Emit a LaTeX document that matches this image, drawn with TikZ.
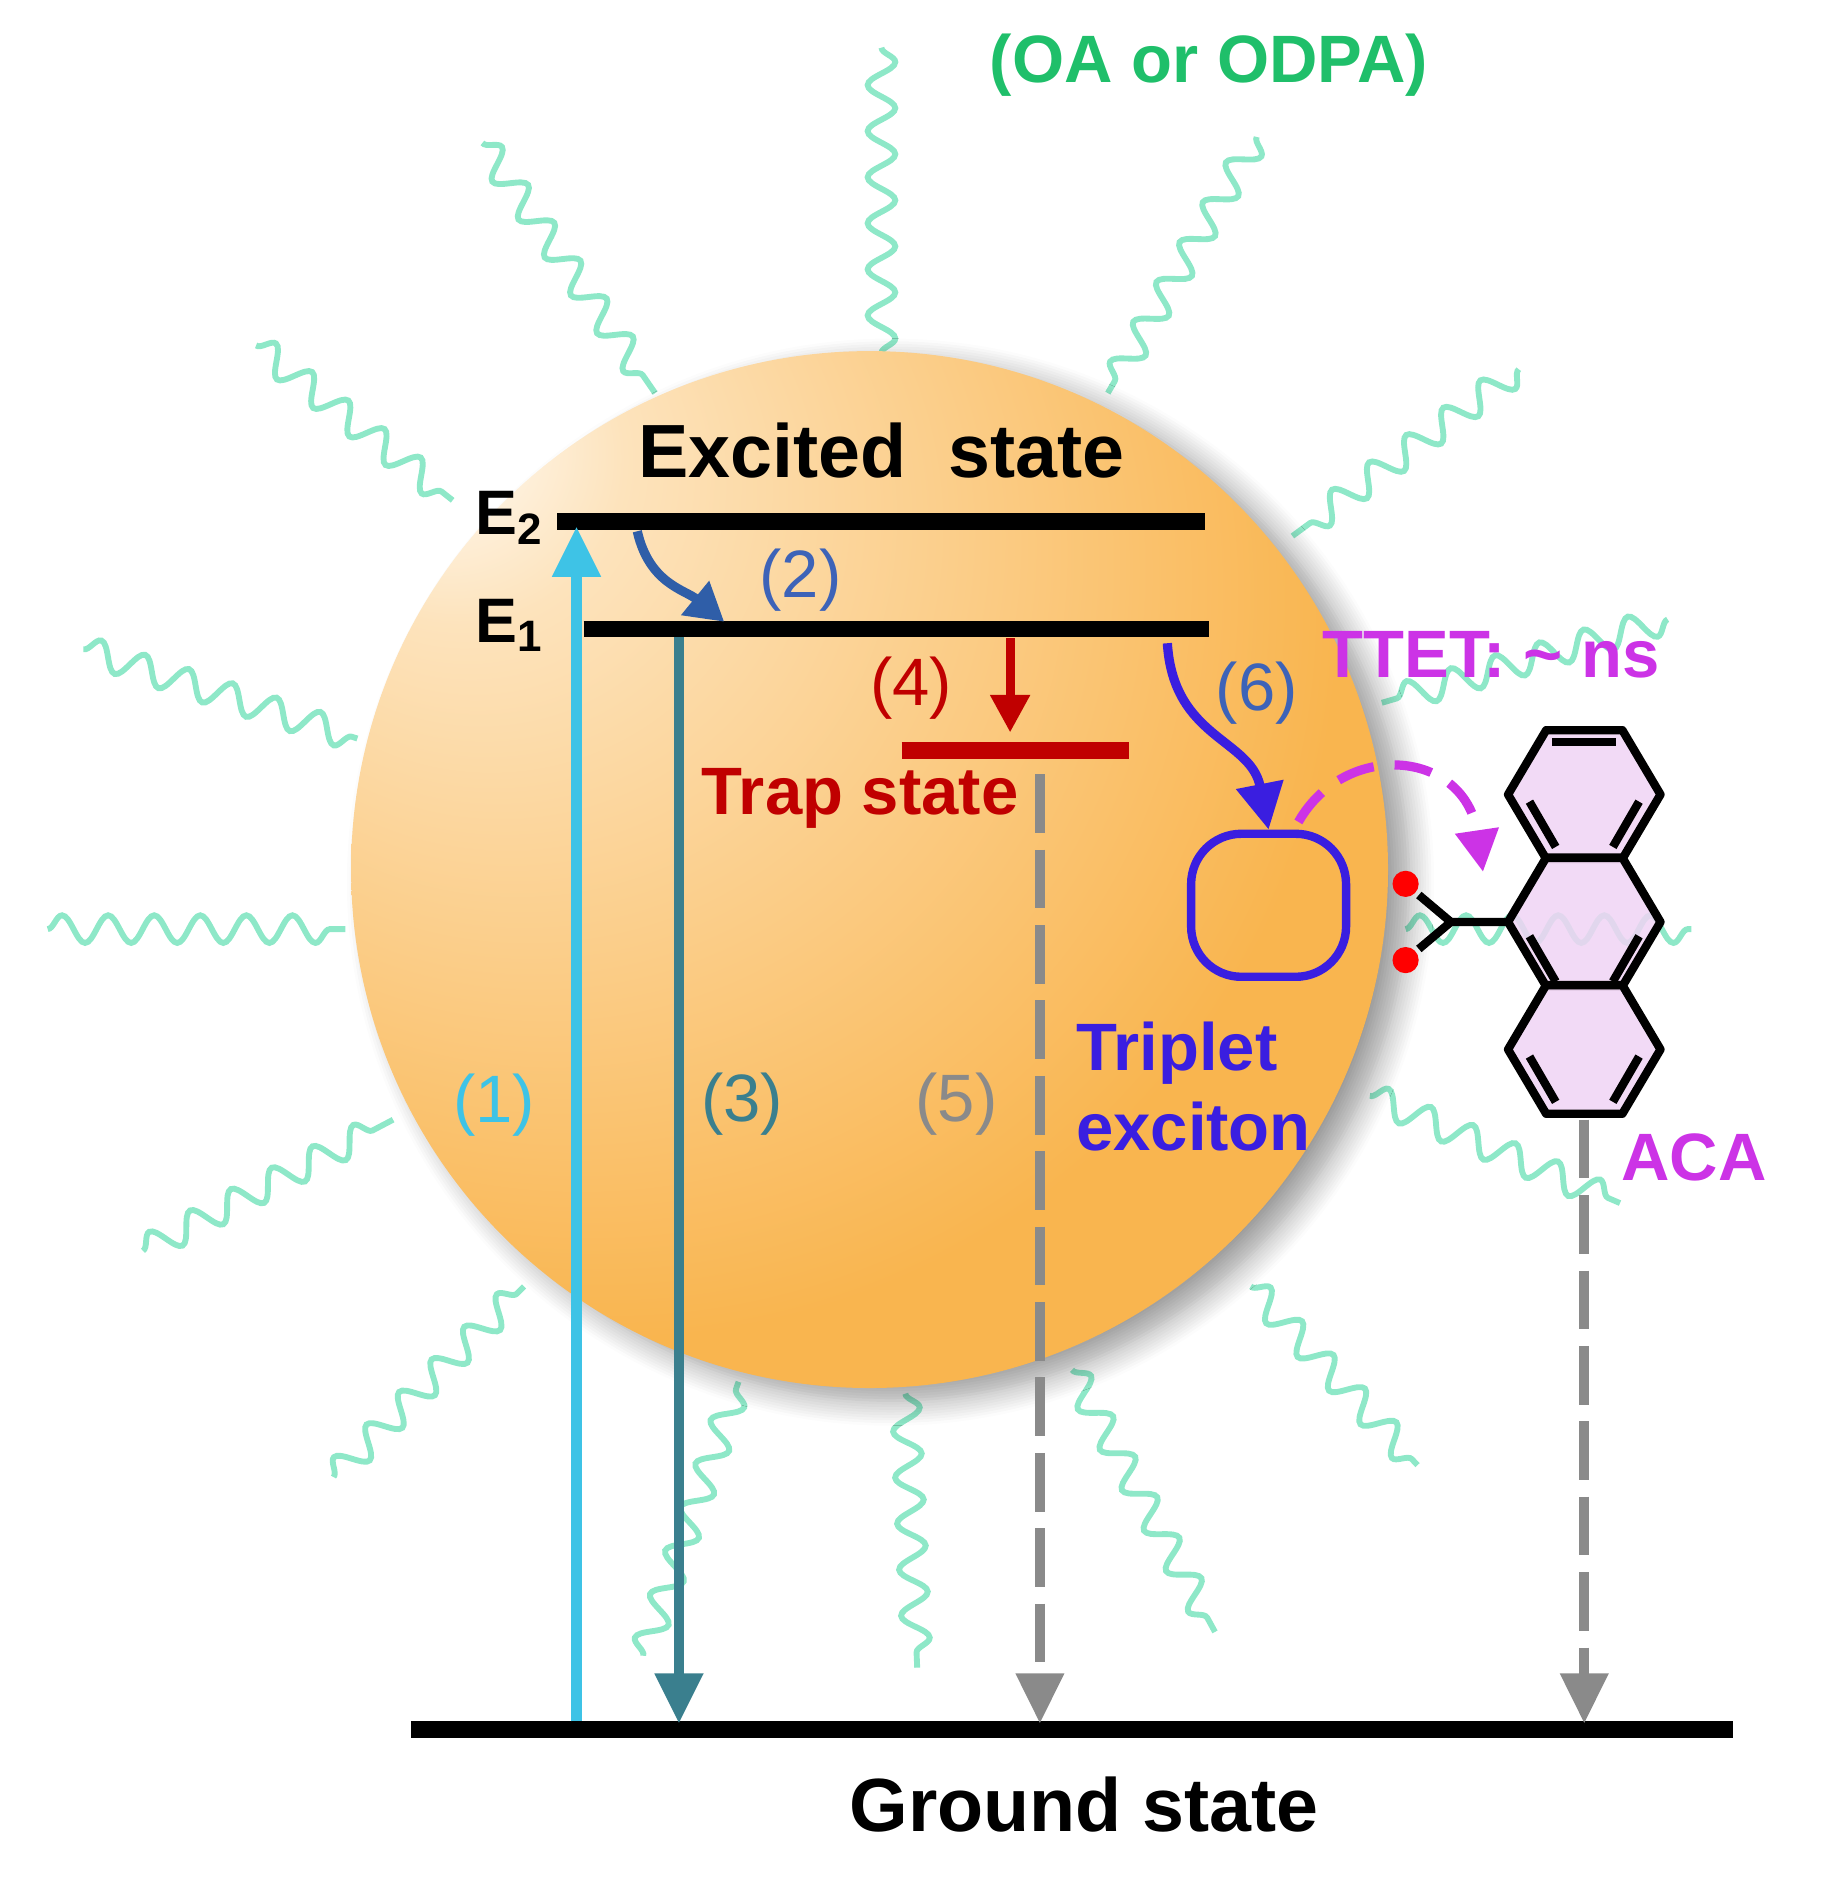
\documentclass[tikz,border=0pt]{standalone}
\usepackage{fontspec}
\setmainfont{Liberation Sans}
\usetikzlibrary{arrows.meta,decorations.pathmorphing,shadows.blur}
\definecolor{lig}{HTML}{8EE8C8}
\definecolor{orM}{HTML}{F9B54F}
\definecolor{orL}{HTML}{FDE3BC}
\definecolor{cyanA}{HTML}{3EC3E6}
\definecolor{tealA}{HTML}{3A7F8E}
\definecolor{blueA}{HTML}{2F5EA8}
\definecolor{blueL}{HTML}{3D63B8}
\definecolor{redA}{HTML}{C00000}
\definecolor{grayA}{HTML}{8A8A8A}
\definecolor{violA}{HTML}{3A1EE0}
\definecolor{magA}{HTML}{CC33E6}
\definecolor{greenA}{HTML}{1FBF6A}
\definecolor{pinkA}{HTML}{F0D4F4}
\pgfdeclareradialshading{orb}{\pgfpoint{-22bp}{22bp}}{color(0bp)=(white); color(8bp)=(orL); color(35bp)=(orM); color(80bp)=(orM)}
\begin{document}
\begin{tikzpicture}[x=0.01cm,y=-0.01cm,
  lg/.style={draw=lig,line width=1.4pt,decorate,decoration={snake,amplitude=3.3pt,segment length=11pt}},
  lvl/.style={line width=4pt},
  tip/.style={-{Triangle[width=11pt,length=12pt]}},
  lab/.style={font=\fontsize{16}{18}\selectfont},
  blab/.style={font=\bfseries\fontsize{16}{19}\selectfont}]
\useasboundingbox (0,0) rectangle (1530,1585);
% ligands
\foreach \a/\b/\c/\d in {740/40/740/300, 405/120/550/330, 1055/115/930/330, 215/290/380/420, 1275/310/1085/450, 70/545/300/620, 1400/520/1160/590, 40/780/290/780, 1180/780/1420/780, 120/1050/330/940, 1150/920/1360/1010, 280/1240/440/1080, 1050/1080/1190/1230, 540/1390/620/1160, 760/1170/770/1400, 900/1150/1020/1370}
  \draw[lg] (\a,\b) -- (\c,\d);
% core
\node[circle,minimum size=8.7cm,shading=orb,blur shadow={shadow xshift=5pt,shadow yshift=-3pt,shadow blur steps=10,shadow blur radius=6pt,shadow opacity=40}] (qd) at (730,730) {};
% levels
\coordinate (e2l) at (468,438); \coordinate (e2r) at (1012,438);
\coordinate (e1l) at (490,528); \coordinate (e1r) at (1015,528);
\coordinate (trl) at (757,630); \coordinate (trr) at (948,630);
\coordinate (gl) at (345,1452); \coordinate (gr) at (1455,1452);
\draw[lvl] (e2l) -- (e2r);
\draw[lvl] (e1l) -- (e1r);
\draw[lvl,redA] (trl) -- (trr);
\draw[lvl] (gl) -- (gr);
\node[font=\bfseries\fontsize{18}{21}\selectfont] (ex) at (740,378) {Excited\ \ state};
\node[font=\bfseries\fontsize{18}{21}\selectfont] (gs) at (910,1515) {Ground state};
\node[font=\bfseries\fontsize{15}{18}\selectfont] (E2) at (428,435) {E\textsubscript{2}};
\node[font=\bfseries\fontsize{15}{18}\selectfont] (E1) at (428,525) {E\textsubscript{1}};
% (1)
\coordinate (a1s) at (484,1445); \coordinate (a1e) at (484,442);
\draw[tip,cyanA,line width=2.6pt] (a1s) -- (a1e);
\node[lab,cyanA] (l1) at (415,928) {(1)};
% (3)
\coordinate (a3s) at (570,535); \coordinate (a3e) at (570,1447);
\draw[tip,tealA,line width=2.6pt] (a3s) -- (a3e);
\node[lab,tealA] (l3) at (623,927) {(3)};
% (2)
\coordinate (a2s) at (535,446); \coordinate (a2e) at (608,522);
\draw[-{Triangle[width=10pt,length=9pt]},blueA,line width=2.2pt] (a2s) .. controls (545,490) and (575,495) .. (a2e);
\node[lab,blueL] (l2) at (672,487) {(2)};
% (4)
\coordinate (a4s) at (848,536); \coordinate (a4e) at (848,615);
\draw[-{Triangle[width=9pt,length=9pt]},redA,line width=2.2pt] (a4s) -- (a4e);
\node[lab,redA] (l4) at (765,578) {(4)};
\node[blab,redA] (tr) at (722,670) {Trap state};
% (5)
\coordinate (a5s) at (873,650); \coordinate (a5e) at (873,1447);
\draw[tip,grayA,line width=2.4pt,dash pattern=on 14pt off 4pt] (a5s) -- (a5e);
\node[lab,grayA] (l5) at (803,927) {(5)};
% (6)
\coordinate (a6s) at (980,540);
\node[draw=violA,line width=2pt,rounded corners=12pt,minimum width=1.3cm,minimum height=1.2cm] (box) at (1065,760) {};
\draw[-{Triangle[width=11pt,length=11pt]},violA,line width=2.2pt] (a6s) .. controls (985,620) and (1050,620) .. (box.north);
\node[lab,blueL] (l6) at (1055,582) {(6)};
\node[blab,violA,align=left] (tx) at (1002,912) {Triplet\\exciton};
% TTET
\node[blab,magA] (tt) at (1252,550) {TTET: \char`\~{} ns};
\coordinate (tts) at (1090,690); \coordinate (tte) at (1245,732);
\draw[-{Triangle[width=10pt,length=10pt]},magA,line width=2.2pt,dash pattern=on 9pt off 5pt] (tts) .. controls (1130,620) and (1230,630) .. (tte);
% molecule
\begin{scope}[line width=2pt,line join=round]
\foreach \cy in {667,774,881}{
  \draw[fill=pinkA,fill opacity=0.85] (1266,\cy) -- (1298,\cy-54) -- (1362,\cy-54) -- (1394,\cy) -- (1362,\cy+54) -- (1298,\cy+54) -- cycle;
}
\draw (1303,623) -- (1357,623);
\foreach \cy in {667,881}{
  \draw (1284,\cy+6) -- (1306,\cy+44);
  \draw (1376,\cy+6) -- (1354,\cy+44);
}
\draw (1284,786) -- (1306,824);
\draw (1376,786) -- (1354,824);
\coordinate (mv) at (1266,774); \coordinate (br) at (1218,774);
\node[circle,fill=red,inner sep=0,minimum size=0.22cm] (o1) at (1180,742) {};
\node[circle,fill=red,inner sep=0,minimum size=0.22cm] (o2) at (1180,806) {};
\draw (mv) -- (br) -- (o1);
\draw (br) -- (o2);
\end{scope}
\coordinate (acs) at (1330,940); \coordinate (ace) at (1330,1447);
\draw[tip,grayA,line width=2.4pt,dash pattern=on 14pt off 4pt] (acs) -- (ace);
\node[blab,magA] (aca) at (1422,972) {ACA};
\node[blab,greenA] (oa) at (1015,55) {(OA or ODPA)};
\end{tikzpicture}
\end{document}
